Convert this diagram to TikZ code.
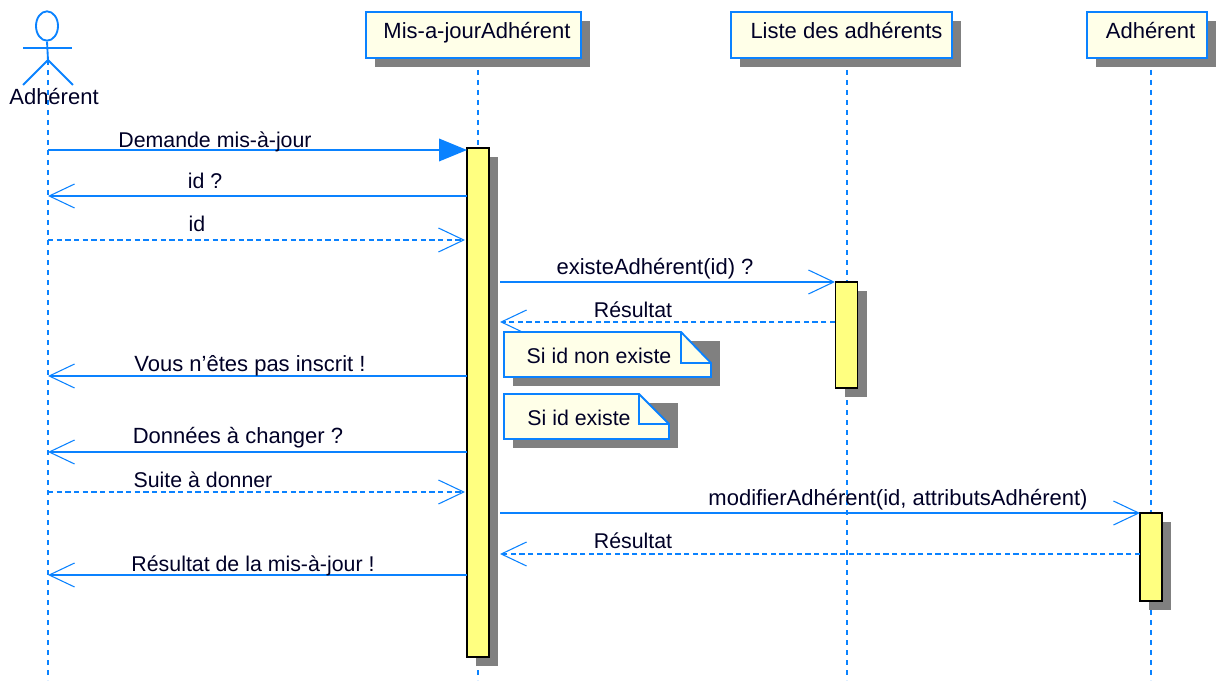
\documentclass[tikz,border=0pt]{standalone}
\usepackage{fontspec}
\setmainfont{Liberation Sans}
\usetikzlibrary{arrows.meta,shadows,shapes.geometric}
\definecolor{umlblue}{RGB}{10,130,255}
\definecolor{notefill}{RGB}{255,255,232}
\definecolor{barfill}{RGB}{255,255,128}
\definecolor{shadowgray}{RGB}{128,128,128}
\tikzset{
  classbox/.style={draw=umlblue,fill=notefill,line width=1.4pt,inner sep=0pt,minimum height=34.5pt,
    copy shadow={shadow xshift=6.75pt,shadow yshift=-6.75pt,fill=shadowgray,draw=none,opacity=1}},
  barbox/.style={draw=black,fill=barfill,line width=1.1pt,inner sep=0pt,minimum width=16.5pt,
    copy shadow={shadow xshift=6.75pt,shadow yshift=-6.75pt,fill=shadowgray,draw=none,opacity=1}},
  lifeline/.style={draw=umlblue,line width=1.1pt,dash pattern=on 4pt off 3.5pt},
  callmsg/.style={draw=umlblue,line width=1.1pt,-{Straight Barb[length=19pt,width=18pt,line width=0.8pt]}},
  backmsg/.style={draw=umlblue,line width=1.1pt,dash pattern=on 4pt off 2.5pt,-{Straight Barb[length=19pt,width=18pt,line width=0.8pt]}},
  startmsg/.style={draw=umlblue,line width=1.1pt,-{Triangle[length=21pt,width=17pt]},shorten >=0pt},
  stickman/.style={draw=umlblue,line width=1.4pt},
  notepath/.style={draw=umlblue,fill=notefill,line width=1.4pt,line join=miter},
  txt/.style={inner sep=0pt,text height=11pt,text depth=3pt,font=\fontsize{16.5pt}{16.5pt}\selectfont,text=black!85!blue},
  txtsmall/.style={txt,font=\fontsize{16pt}{16pt}\selectfont}
}
\begin{document}
\begin{tikzpicture}[x=0.75pt,y=-0.75pt]
  \useasboundingbox (0,0) rectangle (1219,684);
  % lifelines, tops and bottoms
  \coordinate (actortop) at (48,60);
  \coordinate (actorend) at (48,680);
  \coordinate (majtop) at (478,70);
  \coordinate (majend) at (478,680);
  \coordinate (listetop) at (847,70);
  \coordinate (listeend) at (847,680);
  \coordinate (adhtop) at (1151,70);
  \coordinate (adhend) at (1151,680);
  \draw [lifeline] (actortop) -- (actorend);
  \draw [lifeline] (majtop) -- (majend);
  \draw [lifeline] (listetop) -- (listeend);
  \draw [lifeline] (adhtop) -- (adhend);
  % actor
  \node (head) [draw=umlblue,line width=1.4pt,ellipse,minimum width=16.5pt,minimum height=22pt,inner sep=0pt] at (47,26) {};
  \coordinate (hip) at (48,60);
  \coordinate (armleft) at (23,48);
  \coordinate (armright) at (72,48);
  \coordinate (legleft) at (23,85);
  \coordinate (legright) at (73,85);
  \draw [stickman] (head.south) -- (hip);
  \draw [stickman] (armleft) -- (armright);
  \draw [stickman] (legleft) -- (hip) -- (legright);
  \node (actorname) [txt] at (54,99) {Adhérent};
  % top boxes
  \node (majbox) [classbox,minimum width=161.25pt] at (473.5,35) {};
  \node (majname) [txt] at (477,33) {Mis-a-jourAdhérent};
  \node (listebox) [classbox,minimum width=165.75pt] at (841.5,35) {};
  \node (listename) [txt] at (846.5,33) {Liste des adhérents};
  \node (adhbox) [classbox,minimum width=90pt] at (1147,35) {};
  \node (adhname) [txt] at (1150.5,33) {Adhérent};
  % activation bars
  \node (majbar) [barbox,minimum height=381.75pt] at (478,402.5) {};
  \node (listebar) [barbox,minimum height=79.5pt] at (846.5,335) {};
  \node (adhbar) [barbox,minimum height=66pt] at (1151,557) {};
  % messages, left part
  \coordinate (a1) at (48,150);
  \coordinate (m1) at (467,150);
  \coordinate (m2) at (467,196);
  \coordinate (a2) at (48,196);
  \coordinate (a3) at (48,240);
  \coordinate (m3) at (465,240);
  \coordinate (m6) at (467,376);
  \coordinate (a6) at (48,376);
  \coordinate (m7) at (467,452);
  \coordinate (a7) at (48,452);
  \coordinate (a8) at (48,492);
  \coordinate (m8) at (465,492);
  \coordinate (m11) at (467,575);
  \coordinate (a11) at (48,575);
  \draw [startmsg] (a1) -- (m1);
  \draw [callmsg] (m2) -- (a2);
  \draw [backmsg] (a3) -- (m3);
  \draw [callmsg] (m6) -- (a6);
  \draw [callmsg] (m7) -- (a7);
  \draw [backmsg] (a8) -- (m8);
  \draw [callmsg] (m11) -- (a11);
  % messages, right part
  \coordinate (m4) at (500,282);
  \coordinate (l4) at (835,282);
  \coordinate (l5) at (835,322);
  \coordinate (m5) at (500,322);
  \coordinate (m9) at (500,513);
  \coordinate (d9) at (1140,513);
  \coordinate (d10) at (1140,554);
  \coordinate (m10) at (500,554);
  \draw [callmsg] (m4) -- (l4);
  \draw [backmsg] (l5) -- (m5);
  \draw [callmsg] (m9) -- (d9);
  \draw [backmsg] (d10) -- (m10);
  % message labels
  \node (demande) [txtsmall] at (215,142) {Demande mis-à-jour};
  \node (idq) [txtsmall] at (205,183) {id ?};
  \node (idr) [txtsmall] at (197,226) {id};
  \node (existe) [txt] at (655,269) {existeAdhérent(id) ?};
  \node (resa) [txtsmall] at (633,312) {Résultat};
  \node (inscrit) [txt] at (250,366) {Vous n'êtes pas inscrit !};
  \node (donnees) [txt] at (238,438) {Données à changer ?};
  \node (suite) [txtsmall] at (203,482) {Suite à donner};
  \node (modifier) [txt] at (898,500) {modifierAdhérent(id, attributsAdhérent)};
  \node (resb) [txtsmall] at (633,543) {Résultat};
  \node (resc) [txtsmall] at (253,566) {Résultat de la mis-à-jour !};
  % note non existe
  \fill [shadowgray] (513,341) -- (720,341) -- (720,386) -- (513,386) -- cycle;
  \draw [notepath] (504,332) -- (681,332) -- (711,363) -- (711,377) -- (504,377) -- cycle;
  \draw [notepath,fill=none] (681,332) -- (681,363) -- (711,363);
  \node (nonexiste) [txtsmall] at (599,358) {Si id non existe};
  % note existe
  \fill [shadowgray] (513,403) -- (678,403) -- (678,448) -- (513,448) -- cycle;
  \draw [notepath] (504,394) -- (639,394) -- (669,424) -- (669,439) -- (504,439) -- cycle;
  \draw [notepath,fill=none] (639,394) -- (639,424) -- (669,424);
  \node (siexiste) [txtsmall] at (579,420) {Si id existe};
\end{tikzpicture}
\end{document}
